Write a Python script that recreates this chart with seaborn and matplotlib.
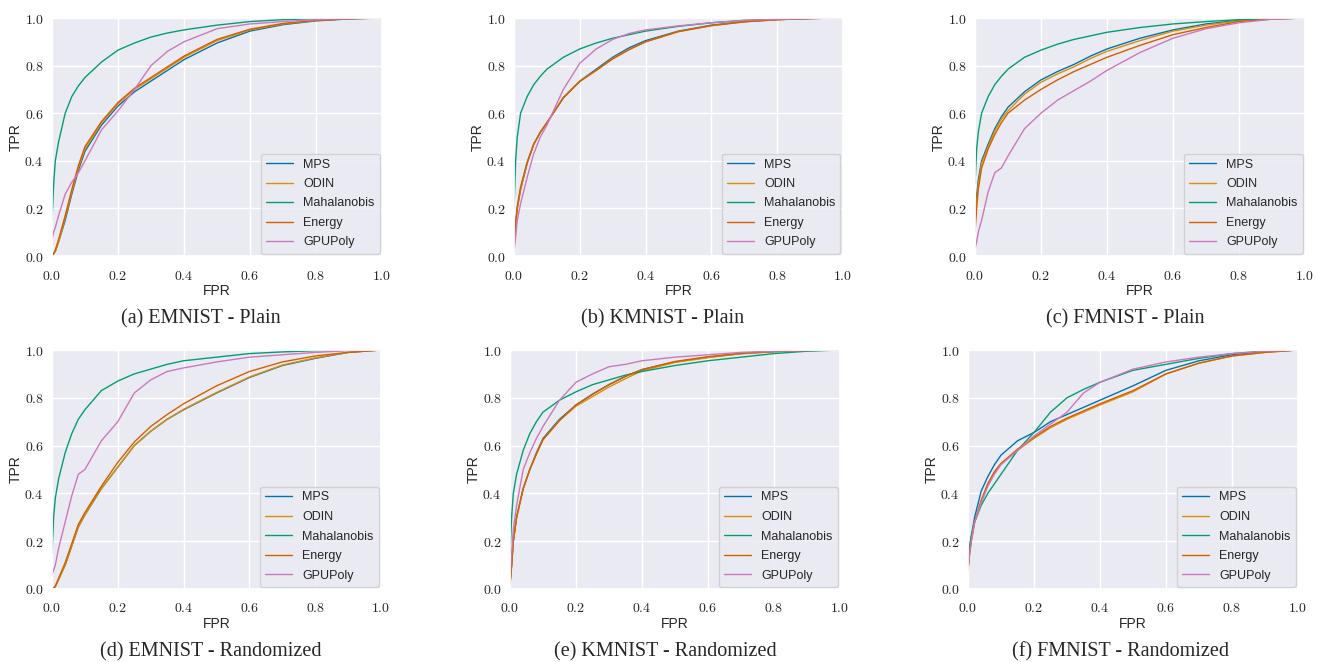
import numpy as np
import pandas as pd
import matplotlib
matplotlib.use('Agg')
import matplotlib.pyplot as plt
from matplotlib.ticker import FuncFormatter
import seaborn as sns

###############################################################################
# Data
###############################################################################
METHODS = ['MPS', 'ODIN', 'Mahalanobis', 'Energy', 'GPUPoly']
FPR = [0, 0.005, 0.01, 0.02, 0.04, 0.06, 0.08, 0.1, 0.15, 0.2,
       0.25, 0.3, 0.35, 0.4, 0.5, 0.6, 0.7, 0.8, 0.9, 1.0]
CAPTIONS = [
    '(a) EMNIST - Plain', '(b) KMNIST - Plain', '(c) FMNIST - Plain',
    '(d) EMNIST - Randomized', '(e) KMNIST - Randomized', '(f) FMNIST - Randomized'
]

# (a) EMNIST - Plain
tprA = {
    'MPS':         [0, 0.01, 0.02, 0.06, 0.15, 0.26, 0.36, 0.44, 0.55, 0.63, 0.69, 0.735, 0.78, 0.825, 0.895, 0.945, 0.972, 0.988, 0.996, 1],
    'ODIN':        [0, 0.01, 0.02, 0.06, 0.16, 0.27, 0.37, 0.45, 0.56, 0.64, 0.70, 0.745, 0.79, 0.835, 0.905, 0.95, 0.975, 0.99, 0.997, 1],
    'Mahalanobis': [0.15, 0.3, 0.4, 0.48, 0.6, 0.67, 0.715, 0.75, 0.815, 0.865, 0.895, 0.92, 0.937, 0.95, 0.97, 0.985, 0.993, 0.997, 0.999, 1],
    'Energy':      [0, 0.01, 0.025, 0.07, 0.17, 0.28, 0.38, 0.46, 0.565, 0.645, 0.705, 0.75, 0.795, 0.84, 0.91, 0.953, 0.977, 0.99, 0.997, 1],
    'GPUPoly':     [0.07, 0.1, 0.12, 0.17, 0.26, 0.31, 0.35, 0.4, 0.53, 0.61, 0.7, 0.8, 0.86, 0.9, 0.955, 0.975, 0.985, 0.993, 0.998, 1],
}
# (b) KMNIST - Plain
tprB = {
    'MPS':         [0.05, 0.13, 0.2, 0.28, 0.39, 0.47, 0.52, 0.56, 0.665, 0.735, 0.785, 0.835, 0.875, 0.905, 0.945, 0.97, 0.985, 0.993, 0.998, 1],
    'ODIN':        [0.05, 0.13, 0.2, 0.28, 0.39, 0.47, 0.52, 0.56, 0.665, 0.735, 0.78, 0.83, 0.868, 0.9, 0.943, 0.968, 0.984, 0.993, 0.998, 1],
    'Mahalanobis': [0.2, 0.4, 0.5, 0.6, 0.67, 0.72, 0.755, 0.785, 0.835, 0.87, 0.895, 0.915, 0.93, 0.945, 0.965, 0.98, 0.99, 0.995, 0.998, 1],
    'Energy':      [0.06, 0.14, 0.21, 0.29, 0.395, 0.47, 0.52, 0.56, 0.665, 0.733, 0.78, 0.828, 0.867, 0.9, 0.943, 0.968, 0.984, 0.993, 0.998, 1],
    'GPUPoly':     [0.02, 0.08, 0.15, 0.22, 0.33, 0.43, 0.5, 0.55, 0.7, 0.81, 0.87, 0.91, 0.935, 0.95, 0.967, 0.98, 0.99, 0.995, 0.998, 1],
}
# (c) FMNIST - Plain
tprC = {
    'MPS':         [0.15, 0.25, 0.32, 0.4, 0.47, 0.535, 0.585, 0.625, 0.69, 0.74, 0.775, 0.805, 0.84, 0.87, 0.915, 0.95, 0.975, 0.99, 0.997, 1],
    'ODIN':        [0.13, 0.23, 0.3, 0.39, 0.46, 0.525, 0.575, 0.61, 0.68, 0.73, 0.765, 0.795, 0.83, 0.86, 0.905, 0.945, 0.97, 0.988, 0.996, 1],
    'Mahalanobis': [0.3, 0.45, 0.52, 0.6, 0.67, 0.72, 0.755, 0.785, 0.835, 0.865, 0.89, 0.91, 0.925, 0.94, 0.96, 0.975, 0.985, 0.993, 0.998, 1],
    'Energy':      [0.1, 0.2, 0.28, 0.37, 0.45, 0.51, 0.56, 0.6, 0.655, 0.7, 0.74, 0.775, 0.805, 0.835, 0.885, 0.93, 0.96, 0.985, 0.995, 1],
    'GPUPoly':     [0.03, 0.06, 0.1, 0.15, 0.27, 0.35, 0.37, 0.42, 0.535, 0.6, 0.655, 0.695, 0.735, 0.78, 0.855, 0.915, 0.955, 0.98, 0.995, 1],
}
# (d) EMNIST - Randomized
tprD = {
    'MPS':         [0, 0.003, 0.01, 0.04, 0.1, 0.18, 0.26, 0.31, 0.42, 0.51, 0.6, 0.66, 0.71, 0.75, 0.82, 0.885, 0.935, 0.965, 0.99, 1],
    'ODIN':        [0, 0.003, 0.01, 0.04, 0.1, 0.18, 0.26, 0.31, 0.42, 0.51, 0.6, 0.66, 0.71, 0.752, 0.822, 0.887, 0.937, 0.967, 0.99, 1],
    'Mahalanobis': [0.15, 0.3, 0.38, 0.46, 0.57, 0.65, 0.71, 0.75, 0.83, 0.87, 0.9, 0.92, 0.94, 0.955, 0.97, 0.985, 0.992, 0.997, 0.999, 1],
    'Energy':      [0, 0.004, 0.012, 0.045, 0.11, 0.19, 0.27, 0.32, 0.43, 0.53, 0.615, 0.68, 0.73, 0.775, 0.85, 0.91, 0.95, 0.975, 0.99, 1],
    'GPUPoly':     [0.06, 0.08, 0.1, 0.17, 0.28, 0.39, 0.48, 0.5, 0.62, 0.7, 0.82, 0.875, 0.91, 0.925, 0.95, 0.97, 0.98, 0.99, 0.997, 1],
}
# (e) KMNIST - Randomized
tprE = {
    'MPS':         [0.02, 0.1, 0.2, 0.3, 0.42, 0.5, 0.57, 0.63, 0.71, 0.77, 0.815, 0.855, 0.89, 0.918, 0.95, 0.97, 0.985, 0.993, 0.998, 1],
    'ODIN':        [0.02, 0.1, 0.2, 0.3, 0.42, 0.5, 0.565, 0.625, 0.705, 0.765, 0.805, 0.845, 0.88, 0.913, 0.948, 0.968, 0.984, 0.993, 0.998, 1],
    'Mahalanobis': [0.15, 0.3, 0.4, 0.48, 0.58, 0.65, 0.7, 0.74, 0.79, 0.825, 0.855, 0.875, 0.895, 0.91, 0.935, 0.955, 0.97, 0.985, 0.995, 1],
    'Energy':      [0.02, 0.1, 0.2, 0.3, 0.42, 0.5, 0.565, 0.625, 0.705, 0.77, 0.815, 0.855, 0.89, 0.918, 0.952, 0.972, 0.986, 0.994, 0.998, 1],
    'GPUPoly':     [0.05, 0.15, 0.25, 0.35, 0.5, 0.57, 0.63, 0.68, 0.79, 0.865, 0.9, 0.93, 0.94, 0.955, 0.97, 0.98, 0.99, 0.995, 0.998, 1],
}
# (f) FMNIST - Randomized
tprF = {
    'MPS':         [0.08, 0.17, 0.22, 0.3, 0.41, 0.47, 0.52, 0.56, 0.62, 0.655, 0.7, 0.73, 0.76, 0.79, 0.85, 0.915, 0.955, 0.98, 0.993, 1],
    'ODIN':        [0.08, 0.15, 0.2, 0.28, 0.37, 0.44, 0.49, 0.525, 0.58, 0.63, 0.675, 0.71, 0.74, 0.77, 0.825, 0.9, 0.945, 0.975, 0.99, 1],
    'Mahalanobis': [0.1, 0.18, 0.22, 0.28, 0.35, 0.4, 0.44, 0.48, 0.58, 0.655, 0.74, 0.8, 0.835, 0.865, 0.915, 0.94, 0.965, 0.985, 0.995, 1],
    'Energy':      [0.08, 0.15, 0.2, 0.28, 0.37, 0.44, 0.49, 0.525, 0.585, 0.635, 0.68, 0.715, 0.745, 0.775, 0.83, 0.9, 0.945, 0.975, 0.99, 1],
    'GPUPoly':     [0.08, 0.15, 0.2, 0.28, 0.36, 0.43, 0.48, 0.52, 0.58, 0.64, 0.69, 0.74, 0.82, 0.865, 0.92, 0.95, 0.97, 0.985, 0.995, 1],
}
PANELS = [tprA, tprB, tprC, tprD, tprE, tprF]

###############################################################################
# Style
###############################################################################
sns.set_theme(style='darkgrid', palette='colorblind')
plt.rcParams['font.family'] = ['Liberation Sans', 'DejaVu Sans']
plt.rcParams['mathtext.fontset'] = 'cm'
palette = dict(zip(METHODS, sns.color_palette('colorblind', 5)))

W, H = 1317, 662
fig = plt.figure(figsize=(W / 100, H / 100), dpi=100)
# axes boxes in pixels: (left, right, top, bottom)
boxes = [
    (52, 382, 18, 256), (514, 843, 18, 256), (975, 1305, 18, 256),
    (52, 381, 350, 589), (510, 840, 350, 589), (968, 1298, 350, 589),
]
capPos = [(201, 319), (663, 319), (1125, 319), (211, 652), (665, 652), (1121, 652)]
tickFmt = FuncFormatter(lambda v, p: r'${:.1f}$'.format(v))

for i, (tpr, (l, r, t, b)) in enumerate(zip(PANELS, boxes)):
    ax = fig.add_axes([l / W, (H - b) / H, (r - l) / W, (b - t) / H])
    df = pd.concat([
        pd.DataFrame({'FPR': FPR, 'TPR': tpr[m], 'Method': m}) for m in METHODS
    ])
    sns.lineplot(
        data=df, x='FPR', y='TPR', hue='Method', hue_order=METHODS,
        palette=palette, linewidth=1.0, ax=ax, estimator=None, sort=False
    )
    ax.set_xlim(0, 1)
    ax.set_ylim(0, 1)
    ax.set_xticks(np.arange(0, 1.01, 0.2))
    ax.set_yticks(np.arange(0, 1.01, 0.2))
    ax.xaxis.set_major_formatter(tickFmt)
    ax.yaxis.set_major_formatter(tickFmt)
    ax.tick_params(axis='y', labelsize=10, pad=0, colors='0.15')
    ax.tick_params(axis='x', labelsize=10, pad=3, colors='0.15')
    ax.set_xlabel('FPR', fontsize=10, labelpad=1)
    ax.set_ylabel('TPR', fontsize=10)
    ax.yaxis.set_label_coords(-29 / (r - l), 0.5)
    ax.legend(
        loc='lower right', fontsize=9, borderaxespad=0.2,
        handlelength=2.2, labelspacing=0.6, title=None
    )
    fig.text(
        capPos[i][0] / W, 1 - capPos[i][1] / H, CAPTIONS[i],
        ha='center', va='center', fontsize=14.5, family='Liberation Serif'
    )

plt.savefig('out.png', dpi=100)
plt.close('all')
